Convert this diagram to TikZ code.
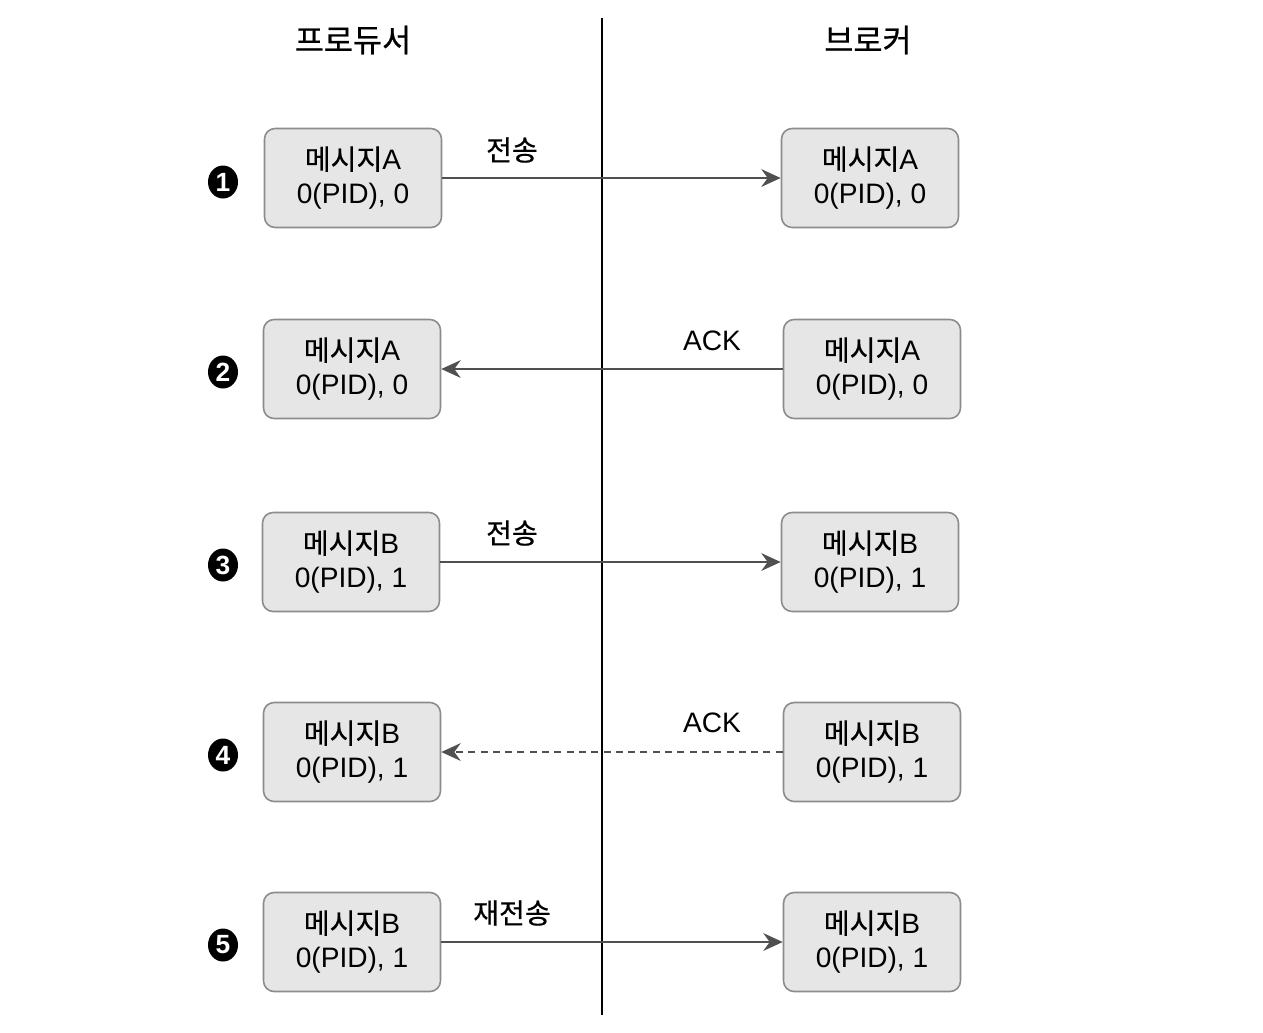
\documentclass[tikz,border=0pt]{standalone}
\usepackage{fontspec}
\setmainfont{Liberation Sans}
\newfontfamily\kr{Noto Sans CJK KR}[FakeBold=0.6]
\usetikzlibrary{arrows.meta,shapes.geometric}
\definecolor{boxfill}{HTML}{E6E6E6}
\definecolor{boxline}{HTML}{8C8C8C}
\definecolor{arrline}{HTML}{505050}
\begin{document}
\begin{tikzpicture}[x=0.02cm,y=-0.02cm,
    msg/.style={draw=boxline,fill=boxfill,rounded corners=6pt,line width=0.9pt,
      minimum width=3.54cm,minimum height=1.98cm,align=center,font=\fontsize{16}{19.5}\selectfont},
    num/.style={ellipse,fill=black,text=white,inner sep=0pt,minimum width=0.6cm,minimum height=0.66cm,
      font=\bfseries\fontsize{15}{15}\selectfont},
    msgarrow/.style={draw=arrline,line width=1.6pt,-{Stealth[length=11pt,width=10pt]}},
    lbl/.style={font=\fontsize{16}{16}\selectfont}]
    \useasboundingbox (0,0) rectangle (1263,1032);
    \draw [line width=1pt] (602,18) -- (602,1015);
    \node (prod) at (353,40) {\kr\fontsize{18}{18}\selectfont 프로듀서};
    \node (brok) at (868,40) {\kr\fontsize{18}{18}\selectfont 브로커};
    % 1
    \node [num] (n1) at (223,182) {1};
    \node [msg] (p1) at (353,178) {{\kr 메시지}A\\0(PID), 0};
    \node [msg] (b1) at (870,178) {{\kr 메시지}A\\0(PID), 0};
    \draw [msgarrow] (p1) -- (b1);
    \node [lbl] (l1) at (512,150) {\kr 전송};
    % 2
    \node [num] (n2) at (223,372) {2};
    \node [msg] (p2) at (352,369) {{\kr 메시지}A\\0(PID), 0};
    \node [msg] (b2) at (872,369) {{\kr 메시지}A\\0(PID), 0};
    \draw [msgarrow] (b2) -- (p2);
    \node [lbl] (l2) at (712,341) {ACK};
    % 3
    \node [num] (n3) at (223,565) {3};
    \node [msg] (p3) at (351,562) {{\kr 메시지}B\\0(PID), 1};
    \node [msg] (b3) at (870,562) {{\kr 메시지}B\\0(PID), 1};
    \draw [msgarrow] (p3) -- (b3);
    \node [lbl] (l3) at (512,533) {\kr 전송};
    % 4
    \node [num] (n4) at (223,755) {4};
    \node [msg] (p4) at (352,752) {{\kr 메시지}B\\0(PID), 1};
    \node [msg] (b4) at (872,752) {{\kr 메시지}B\\0(PID), 1};
    \draw [msgarrow,dash pattern=on 4pt off 3pt] (b4) -- (p4);
    \node [lbl] (l4) at (712,723) {ACK};
    % 5
    \node [num] (n5) at (223,945) {5};
    \node [msg] (p5) at (352,942) {{\kr 메시지}B\\0(PID), 1};
    \node [msg] (b5) at (872,942) {{\kr 메시지}B\\0(PID), 1};
    \draw [msgarrow] (p5) -- (b5);
    \node [lbl] (l5) at (512,913) {\kr 재전송};
\end{tikzpicture}
\end{document}
